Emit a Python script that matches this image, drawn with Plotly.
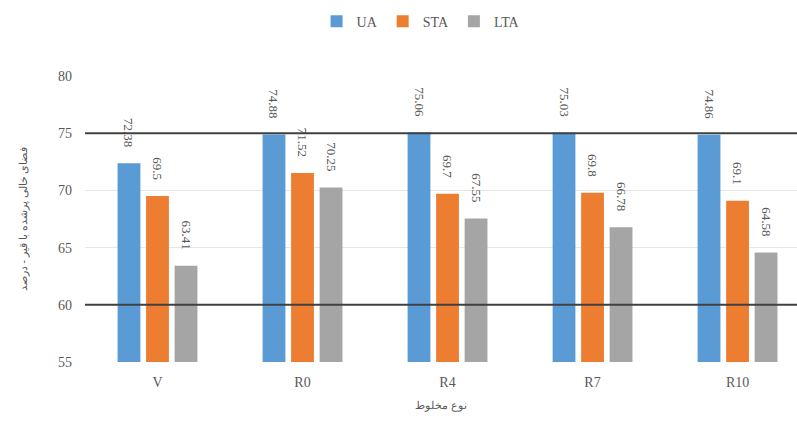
import plotly.graph_objects as go

categories = ["V", "R0", "R4", "R7", "R10"]
series_names = ["UA", "STA", "LTA"]
ua = [72.38, 74.88, 75.06, 75.03, 74.86]
sta = [69.5, 71.52, 69.7, 69.8, 69.1]
lta = [63.41, 70.25, 67.55, 66.78, 64.58]
y_ticks = [55, 60, 65, 70, 75, 80]
colors = ["#5B9BD5", "#ED7D31", "#A5A5A5"]

pad = "<span style='color:rgba(0,0,0,0)'>00</span>"

fig = go.Figure()
for name, vals, col in zip(series_names, [ua, sta, lta], colors):
    fig.add_trace(go.Bar(
        x=categories, y=vals, name=name, marker=dict(color=col, line=dict(width=0)),
        text=[f"{v:g}" + pad for v in vals], textposition="outside", textangle=90,
        textfont=dict(family="Liberation Serif", size=13, color="#595959"),
        constraintext="none", cliponaxis=False,
    ))

for yv in [60, 75]:
    fig.add_shape(type="line", xref="paper", yref="y", x0=0, x1=1, y0=yv, y1=yv,
                  line=dict(color="#404040", width=2), layer="above")

fig.update_layout(
    width=797, height=423,
    margin=dict(l=85, r=0, t=76, b=61, autoexpand=False),
    paper_bgcolor="white", plot_bgcolor="white",
    barmode="group", bargap=0.41, bargroupgap=0.2,
    font=dict(family="Liberation Serif", color="#595959"),
    legend=dict(orientation="h", x=0.472, xanchor="center", y=1.19, yanchor="middle",
                font=dict(size=14, color="#595959"), itemwidth=30, tracegroupgap=0),
    xaxis=dict(range=[-0.5, 4.41], showline=False, ticks="", tickfont=dict(size=14),
               ticklabelstandoff=10,
               title=dict(text="نوع مخلوط", font=dict(family="Noto Sans", size=11), standoff=12)),
    yaxis=dict(range=[55, 80], tickvals=y_ticks, showgrid=True, gridcolor="#E6E6E6",
               zeroline=False, tickfont=dict(size=14), ticks="", ticklabelstandoff=12,
               title=dict(text="فضای خالی پرشده با قیر - درصد", font=dict(family="Noto Sans", size=11), standoff=28)),
)
fig.write_html("out.html")
